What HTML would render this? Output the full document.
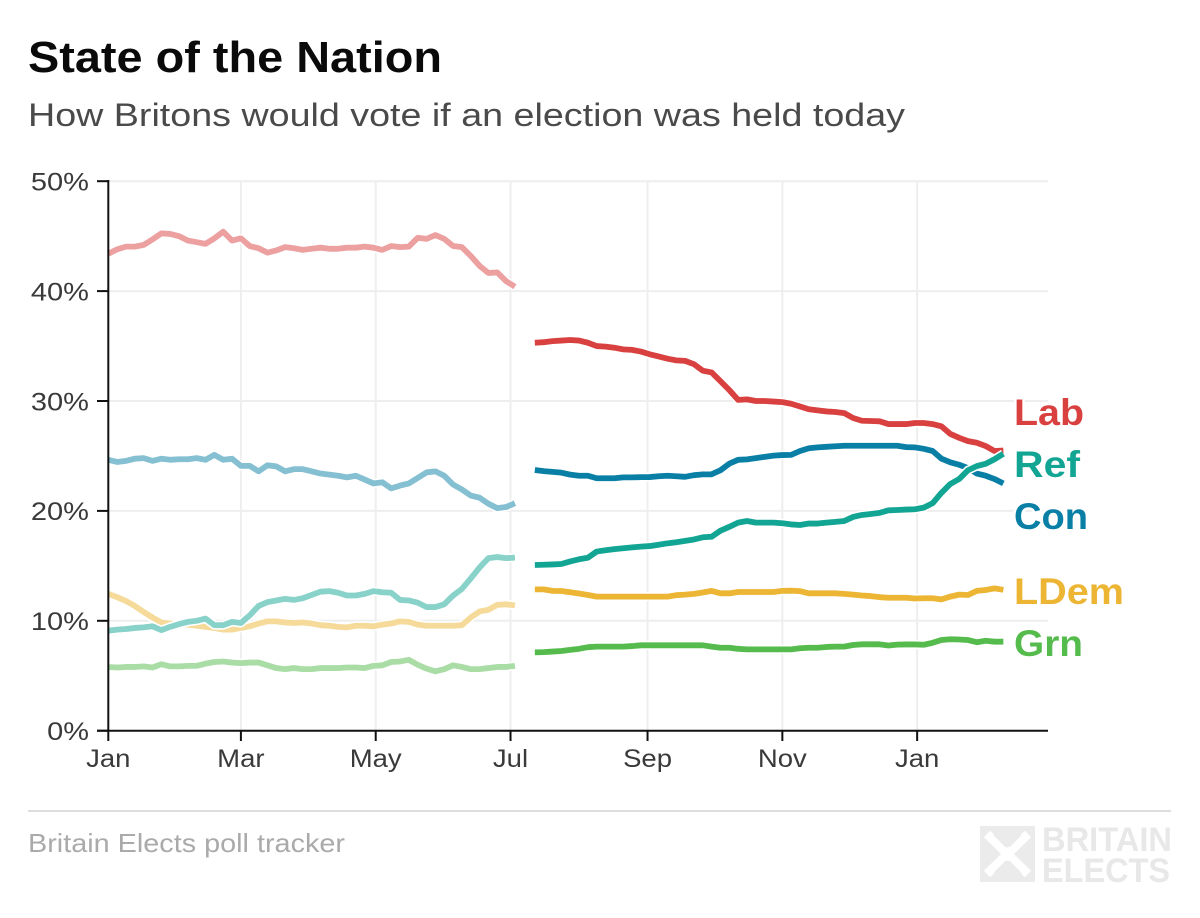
<!DOCTYPE html>
<html lang="en">
<head>
<meta charset="utf-8">
<title>State of the Nation</title>
<style>
  html, body { margin: 0; padding: 0; background: #fff; }
  svg { display: block; font-family: "Liberation Sans", sans-serif; }
  .end-label { font-weight: 700; font-size: 37px; paint-order: stroke; stroke: #fff; stroke-width: 5px; stroke-linejoin: round; }
</style>
</head>
<body>
<svg id="chart" width="1200" height="918" viewBox="0 0 1200 918" xmlns="http://www.w3.org/2000/svg">
  <text x="28" y="72" font-size="44" font-weight="700" fill="#0a0a0a" textLength="414" lengthAdjust="spacingAndGlyphs">State of the Nation</text>
  <text x="28" y="126" font-size="32" fill="#4a4a4a" textLength="877" lengthAdjust="spacingAndGlyphs">How Britons would vote if an election was held today</text>

  <g id="grid"></g>
  <g id="series"></g>
  <g id="axes"></g>

  <text class="end-label" x="1014" y="425" fill="#d94141" textLength="70" lengthAdjust="spacingAndGlyphs">Lab</text>
  <text class="end-label" x="1014" y="477" fill="#12a594" textLength="66" lengthAdjust="spacingAndGlyphs">Ref</text>
  <text class="end-label" x="1014" y="529" fill="#0a7fa6" textLength="74" lengthAdjust="spacingAndGlyphs">Con</text>
  <text class="end-label" x="1014" y="604" fill="#ecb534" textLength="110" lengthAdjust="spacingAndGlyphs">LDem</text>
  <text class="end-label" x="1014" y="656" fill="#55bb4d" textLength="69" lengthAdjust="spacingAndGlyphs">Grn</text>

  <line x1="28" x2="1171" y1="811" y2="811" stroke="#dddddd" stroke-width="2"/>
  <text x="28" y="852" font-size="26" fill="#aaaaaa" textLength="317" lengthAdjust="spacingAndGlyphs">Britain Elects poll tracker</text>

  <g>
    <rect x="980" y="826" width="55" height="56" fill="#ebebeb"/>
    <path d="M987 834 L1028 874 M1028 834 L987 874" stroke="#ffffff" stroke-width="9" fill="none"/>
    <path d="M995 834 L1007 846 M1020 834 L1008 846 M995 874 L1007 862 M1020 874 L1008 862" stroke="#ebebeb" stroke-width="4" fill="none"/>
    <text x="1042" y="851" font-size="34" font-weight="700" fill="#e8e8e8" textLength="130" lengthAdjust="spacingAndGlyphs">BRITAIN</text>
    <text x="1042" y="882" font-size="34" font-weight="700" fill="#e8e8e8" textLength="128" lengthAdjust="spacingAndGlyphs">ELECTS</text>
  </g>
</svg>

<script>
// Categories: days since 1 January of the first year
const leftDays = [0,4,8,12,16,20,24,28,32,36,40,44,48,52,56,60,64,68,72,76,80,84,88,92,96,100,104,108,112,116,120,124,128,132,136,140,144,148,152,156,160,164,168,172,176,180,184];
const rightDays = [193,197,201,205,209,213,217,221,225,229,233,237,241,245,249,253,257,261,265,269,273,277,281,285,289,293,297,301,305,309,313,317,321,325,329,333,337,341,345,349,353,357,361,365,369,373,377,381,385,389,393,397,401,405];

// Tick labels
const yTicks = [0,10,20,30,40,50];
const xTickDays = [0,60,121,182,244,305,366];
const xTickLabels = ['Jan','Mar','May','Jul','Sep','Nov','Jan'];

// Values before the gap
const labLeft = [43.4,43.8,44.05,44.05,44.2,44.7,45.25,45.2,45.0,44.6,44.45,44.3,44.8,45.4,44.6,44.8,44.1,43.9,43.5,43.7,44.0,43.9,43.75,43.85,43.95,43.85,43.85,43.95,43.95,44.05,43.95,43.75,44.1,44.0,44.05,44.85,44.75,45.1,44.75,44.1,44.0,43.2,42.3,41.65,41.7,40.9,40.4];
const conLeft = [24.65,24.45,24.55,24.75,24.8,24.55,24.75,24.65,24.7,24.7,24.8,24.65,25.1,24.65,24.75,24.1,24.1,23.6,24.15,24.05,23.6,23.8,23.8,23.6,23.4,23.3,23.2,23.05,23.2,22.85,22.5,22.6,22.05,22.3,22.5,23.0,23.5,23.6,23.2,22.4,21.95,21.4,21.2,20.65,20.25,20.35,20.7];
const refLeft = [9.1,9.2,9.25,9.35,9.4,9.5,9.15,9.45,9.7,9.9,10.0,10.2,9.6,9.6,9.9,9.8,10.5,11.35,11.7,11.85,12.0,11.9,12.05,12.35,12.65,12.7,12.55,12.3,12.3,12.45,12.7,12.6,12.55,11.9,11.85,11.65,11.25,11.25,11.5,12.3,12.9,13.85,14.85,15.7,15.8,15.7,15.75];
const ldemLeft = [12.45,12.15,11.8,11.35,10.8,10.3,9.85,9.75,9.7,9.65,9.55,9.45,9.35,9.2,9.2,9.35,9.5,9.75,9.95,9.95,9.85,9.8,9.85,9.75,9.6,9.55,9.45,9.4,9.55,9.55,9.5,9.65,9.75,9.95,9.9,9.65,9.55,9.55,9.55,9.55,9.6,10.3,10.85,11.0,11.45,11.5,11.4];
const grnLeft = [5.8,5.75,5.8,5.8,5.85,5.75,6.05,5.85,5.85,5.9,5.9,6.1,6.25,6.3,6.2,6.15,6.2,6.2,5.95,5.7,5.6,5.7,5.6,5.6,5.7,5.7,5.7,5.75,5.75,5.7,5.9,5.95,6.25,6.3,6.45,6.0,5.65,5.4,5.6,5.95,5.8,5.6,5.6,5.7,5.8,5.8,5.9];

// Values after the gap
const labRight = [35.3,35.35,35.45,35.5,35.55,35.5,35.3,35.0,34.95,34.85,34.7,34.65,34.5,34.25,34.05,33.85,33.7,33.65,33.35,32.76,32.6,31.8,31.0,30.1,30.15,30.0,30.0,29.95,29.9,29.75,29.5,29.25,29.15,29.05,29.0,28.9,28.45,28.2,28.18,28.15,27.9,27.9,27.9,28.0,28.0,27.9,27.7,27.0,26.65,26.35,26.2,25.9,25.45,25.5];
const conRight = [23.72,23.62,23.55,23.48,23.3,23.2,23.2,22.97,22.97,22.97,23.05,23.05,23.07,23.08,23.15,23.2,23.15,23.1,23.25,23.32,23.33,23.7,24.3,24.65,24.69,24.8,24.92,25.03,25.08,25.1,25.45,25.7,25.78,25.83,25.88,25.93,25.93,25.93,25.93,25.93,25.93,25.93,25.8,25.78,25.65,25.45,24.75,24.42,24.2,23.9,23.4,23.2,22.9,22.5];
const refRight = [15.08,15.1,15.13,15.17,15.4,15.6,15.74,16.3,16.42,16.52,16.6,16.68,16.75,16.8,16.92,17.05,17.15,17.27,17.4,17.6,17.65,18.2,18.55,18.93,19.08,18.93,18.93,18.93,18.88,18.77,18.72,18.85,18.85,18.93,19.0,19.08,19.45,19.63,19.72,19.82,20.05,20.08,20.12,20.15,20.3,20.7,21.65,22.45,22.9,23.7,24.08,24.28,24.7,25.2];
const ldemRight = [12.86,12.86,12.72,12.71,12.6,12.48,12.35,12.2,12.2,12.2,12.2,12.2,12.2,12.2,12.2,12.2,12.33,12.38,12.45,12.58,12.72,12.5,12.5,12.62,12.62,12.62,12.62,12.62,12.72,12.74,12.7,12.5,12.5,12.5,12.5,12.45,12.38,12.3,12.25,12.15,12.1,12.1,12.1,12.03,12.05,12.05,11.95,12.2,12.38,12.35,12.72,12.8,12.95,12.82];
const grnRight = [7.13,7.15,7.2,7.25,7.35,7.45,7.6,7.65,7.65,7.65,7.65,7.7,7.77,7.77,7.77,7.77,7.77,7.77,7.77,7.77,7.65,7.55,7.55,7.45,7.4,7.4,7.4,7.4,7.4,7.4,7.5,7.55,7.55,7.62,7.65,7.65,7.8,7.86,7.86,7.86,7.75,7.83,7.85,7.85,7.82,8.0,8.25,8.32,8.3,8.25,8.05,8.18,8.1,8.1];

const SVG_NS = 'http://www.w3.org/2000/svg';
const xScale = function (day) { return 108.3 + day * 2.21; };
const yScale = function (pct) { return 730.7 - pct * 10.99; };

const gridGroup = document.getElementById('grid');
const axesGroup = document.getElementById('axes');
const seriesGroup = document.getElementById('series');

function addLine(parent, x1, y1, x2, y2, stroke, width) {
  const el = document.createElementNS(SVG_NS, 'line');
  el.setAttribute('x1', x1);
  el.setAttribute('y1', y1);
  el.setAttribute('x2', x2);
  el.setAttribute('y2', y2);
  el.setAttribute('stroke', stroke);
  el.setAttribute('stroke-width', width);
  parent.appendChild(el);
  return el;
}

function addTickLabel(text, x, y, anchor, stretch) {
  const el = document.createElementNS(SVG_NS, 'text');
  el.textContent = text;
  el.setAttribute('x', x);
  el.setAttribute('y', y);
  el.setAttribute('font-size', '25');
  el.setAttribute('fill', '#3a3a3a');
  el.setAttribute('text-anchor', anchor);
  axesGroup.appendChild(el);
  el.setAttribute('textLength', (el.getComputedTextLength() * stretch).toFixed(1));
  el.setAttribute('lengthAdjust', 'spacingAndGlyphs');
  return el;
}

yTicks.forEach(function (t) {
  const y = yScale(t);
  if (t > 0) {
    const g = addLine(gridGroup, 108, y, 1048, y, '#eeeeee', 2);
    
    
  }
  const tick = addLine(axesGroup, 97, y, 108, y, '#111111', 2);
  
  
  const label = addTickLabel(t + '%', 89, y + 9.3, 'end', 1.16);
  
  
});

xTickDays.forEach(function (d, i) {
  const x = xScale(d);
  if (i > 0) {
    const g = addLine(gridGroup, x, 181, x, 730, '#eeeeee', 2);
    
    
  }
  const tick = addLine(axesGroup, x, 730, x, 741, '#111111', 2);
  
  
  const label = addTickLabel(xTickLabels[i], x, 767, 'middle', 1.1);
  
  
});

const yAxis = addLine(axesGroup, 108.3, 180, 108.3, 731, '#111111', 2);


const xAxis = addLine(axesGroup, 97, yScale(0), 1048, yScale(0), '#111111', 2);



function linePath(days, values) {
  return values.map(function (v, i) {
    return (i ? 'L' : 'M') + xScale(days[i]).toFixed(2) + ' ' + yScale(v).toFixed(2);
  }).join(' ');
}

function drawSeries(name, days, values, colour, opacity) {
  const d = linePath(days, values);
  const halo = document.createElementNS(SVG_NS, 'path');
  
  
  halo.setAttribute('d', d);
  halo.setAttribute('fill', 'none');
  halo.setAttribute('stroke', '#ffffff');
  halo.setAttribute('stroke-width', '9');
  halo.setAttribute('stroke-linejoin', 'round');
  seriesGroup.appendChild(halo);
  const line = document.createElementNS(SVG_NS, 'path');
  
  
  line.setAttribute('d', d);
  line.setAttribute('fill', 'none');
  line.setAttribute('stroke', colour);
  line.setAttribute('stroke-opacity', opacity);
  line.setAttribute('stroke-width', '5.8');
  line.setAttribute('stroke-linejoin', 'round');
  seriesGroup.appendChild(line);
}

drawSeries('grn-before', leftDays, grnLeft, '#55bb4d', 0.5);
drawSeries('ldem-before', leftDays, ldemLeft, '#ecb534', 0.5);
drawSeries('con-before', leftDays, conLeft, '#0a7fa6', 0.5);
drawSeries('lab-before', leftDays, labLeft, '#d94141', 0.5);
drawSeries('ref-before', leftDays, refLeft, '#12a594', 0.5);
drawSeries('grn-after', rightDays, grnRight, '#55bb4d', 1);
drawSeries('ldem-after', rightDays, ldemRight, '#ecb534', 1);
drawSeries('con-after', rightDays, conRight, '#0a7fa6', 1);
drawSeries('lab-after', rightDays, labRight, '#d94141', 1);
drawSeries('ref-after', rightDays, refRight, '#12a594', 1);
</script>
</body>
</html>
